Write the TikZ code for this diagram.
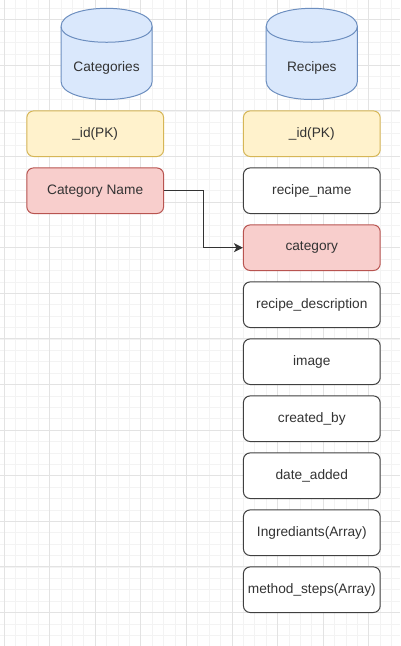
\documentclass[tikz,border=0pt]{standalone}
\usepackage{fontspec}
\setmainfont{Liberation Sans}
\usetikzlibrary{arrows.meta}
\definecolor{gridminor}{HTML}{F3F3F3}
\definecolor{gridmajor}{HTML}{E3E3E3}
\definecolor{yfill}{HTML}{FFF2CC}
\definecolor{ydraw}{HTML}{D6B656}
\definecolor{rfill}{HTML}{F8CECC}
\definecolor{rdraw}{HTML}{B85450}
\definecolor{bfill}{HTML}{DAE8FC}
\definecolor{bdraw}{HTML}{6C8EBF}
\definecolor{txt}{HTML}{333333}
\tikzset{
  field/.style={rectangle, rounded corners=6.8pt, minimum width=136.8pt, minimum height=45.6pt,
    inner sep=0pt, line width=1pt, font=\fontsize{13.7}{16}\selectfont, text=txt},
  plainfield/.style={field, draw=black!75, fill=white},
  pkfield/.style={field, draw=ydraw, fill=yfill},
  fkfield/.style={field, draw=rdraw, fill=rfill},
  cyl/.style={draw=bdraw, fill=bfill, line width=1pt},
  cyllabel/.style={font=\fontsize{13.7}{16}\selectfont, text=txt, inner sep=0pt},
  conn/.style={draw=black!80, line width=1pt, -{Stealth[length=9pt,width=9pt,inset=2.5pt]}},
}
\begin{document}
\begin{tikzpicture}[x=1pt,y=-1pt]
\useasboundingbox (0,0) rectangle (400,646);
\fill[white] (0,0) rectangle (400,646);
% grid
\foreach \i in {0,...,35} \draw[gridminor, line width=0.8pt] ({4+11.4*\i},0) -- ({4+11.4*\i},646);
\foreach \i in {0,...,56} \draw[gridminor, line width=0.8pt] (0,{8.3+11.4*\i}) -- (400,{8.3+11.4*\i});
\foreach \i in {0,...,8} \draw[gridmajor, line width=0.9pt] ({4+45.6*\i},0) -- ({4+45.6*\i},646);
\foreach \i in {0,...,13} \draw[gridmajor, line width=0.9pt] (0,{19.7+45.6*\i}) -- (400,{19.7+45.6*\i});
% cylinders
\foreach \L/\R in {61.0/152.2, 266.2/357.4}{
  \path[cyl] (\L,26.54) .. controls (\L,2.22) and (\R,2.22) .. (\R,26.54)
    -- (\R,81.26) .. controls (\R,105.58) and (\L,105.58) .. (\L,81.26) -- cycle;
  \draw[cyl, fill=none] (\L,26.54) .. controls (\L,47.5) and (\R,47.5) .. (\R,26.54);
}
\node[cyllabel] (categories) at (106.6,68.3) {Categories};
\node[cyllabel] (recipes) at (311.8,68.3) {Recipes};
% left column
\node[pkfield] (cid) at (95.2,133.7) {\_id(PK)};
\node[fkfield] (catname) at (95.2,190.7) {Category Name};
% right column
\node[pkfield] (rid) at (311.8,133.7) {\_id(PK)};
\node[plainfield] (rname) at (311.8,190.7) {recipe\_name};
\node[fkfield] (category) at (311.8,247.7) {category};
\node[plainfield] (rdesc) at (311.8,304.7) {recipe\_description};
\node[plainfield] (image) at (311.8,361.7) {image};
\node[plainfield] (created) at (311.8,418.7) {created\_by};
\node[plainfield] (date) at (311.8,475.7) {date\_added};
\node[plainfield] (ingr) at (311.8,532.7) {Ingrediants(Array)};
\node[plainfield] (method) at (311.8,589.7) {method\_steps(Array)};
% connector
\coordinate (bend) at (203.5,190.7);
\draw[conn] (catname.east) -- (bend) |- (category.west);
\end{tikzpicture}
\end{document}
